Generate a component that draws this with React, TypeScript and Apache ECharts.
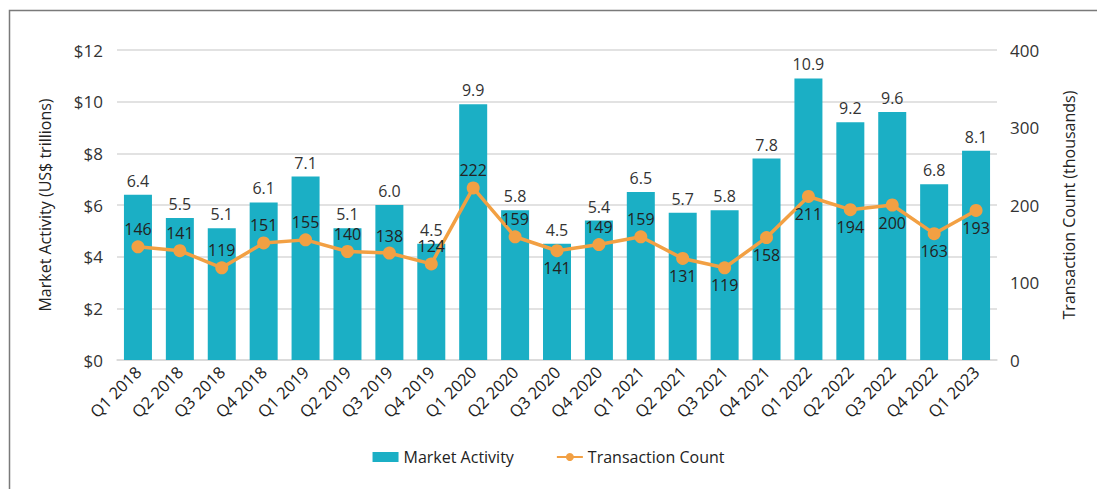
import React, { useEffect, useRef } from "react";
import * as echarts from "echarts";

const categories = [
  "Q1 2018", "Q2 2018", "Q3 2018", "Q4 2018",
  "Q1 2019", "Q2 2019", "Q3 2019", "Q4 2019",
  "Q1 2020", "Q2 2020", "Q3 2020", "Q4 2020",
  "Q1 2021", "Q2 2021", "Q3 2021", "Q4 2021",
  "Q1 2022", "Q2 2022", "Q3 2022", "Q4 2022",
  "Q1 2023",
];
const marketActivity = [6.4, 5.5, 5.1, 6.1, 7.1, 5.1, 6.0, 4.5, 9.9, 5.8, 4.5, 5.4, 6.5, 5.7, 5.8, 7.8, 10.9, 9.2, 9.6, 6.8, 8.1];
const transactionCount = [146, 141, 119, 151, 155, 140, 138, 124, 222, 159, 141, 149, 159, 131, 119, 158, 211, 194, 200, 163, 193];
const lineLabelPos = ["top", "top", "top", "top", "top", "top", "top", "top", "top", "top", "bottom", "top", "top", "bottom", "bottom", "bottom", "bottom", "bottom", "bottom", "bottom", "bottom"];

const FONT = "'Open Sans', 'Noto Sans', sans-serif";
const TEAL = "#1BAFC5";
const ORANGE = "#F2A043";

export default function App() {
  const ref = useRef<HTMLDivElement>(null);
  useEffect(() => {
    document.body.style.margin = "0";
    const chart = echarts.init(ref.current!, null, { renderer: "svg" });
    chart.setOption({
      animation: false,
      textStyle: { fontFamily: FONT },
      graphic: [
        {
          type: "rect",
          shape: { x: 9.5, y: 10.5, width: 1200, height: 600 },
          style: { fill: "none", stroke: "#7a7a7a", lineWidth: 1.5 },
          silent: true,
        },
      ],
      grid: { left: 117, right: 100, top: 50, bottom: 129, containLabel: false },
      legend: {
        bottom: 19,
        left: "center",
        itemGap: 42,
        textStyle: { fontSize: 16, color: "#222", fontFamily: FONT },
        data: [
          { name: "Market Activity", icon: "rect", itemStyle: { color: TEAL } },
          { name: "Transaction Count" },
        ],
        itemWidth: 26,
        itemHeight: 10,
      },
      xAxis: {
        type: "category",
        data: categories,
        axisTick: { show: false },
        axisLine: { lineStyle: { color: "#d9d9d9", width: 1.5 } },
        axisLabel: { rotate: 45, fontSize: 16.5, color: "#222", margin: 9, interval: 0 },
      },
      yAxis: [
        {
          type: "value",
          min: 0,
          max: 12,
          interval: 2,
          name: "Market Activity (US$ trillions)",
          nameLocation: "middle",
          nameGap: 64,
          nameTextStyle: { fontSize: 16, color: "#222" },
          axisLabel: { formatter: (v: number) => "$" + v, fontSize: 17, color: "#333", margin: 14 },
          splitLine: { lineStyle: { color: "#d9d9d9", width: 1.5 } },
          axisLine: { show: false },
          axisTick: { show: false },
        },
        {
          type: "value",
          min: 0,
          max: 400,
          interval: 100,
          name: "Transaction Count (thousands)",
          nameLocation: "middle",
          nameGap: 64,
          nameRotate: 90,
          nameTextStyle: { fontSize: 16, color: "#222" },
          axisLabel: { fontSize: 17, color: "#333", margin: 13 },
          splitLine: { show: false },
          axisLine: { show: false },
          axisTick: { show: false },
        },
      ],
      series: [
        {
          name: "Market Activity",
          type: "bar",
          data: marketActivity,
          barWidth: 28,
          itemStyle: { color: TEAL },
          label: {
            show: true,
            position: "top",
            distance: 6,
            fontSize: 16,
            color: "#333",
            formatter: (p: any) => Number(p.value).toFixed(1),
          },
        },
        {
          name: "Transaction Count",
          type: "line",
          yAxisIndex: 1,
          data: transactionCount.map((v, i) => ({
            value: v,
            label: { position: lineLabelPos[i] },
          })),
          symbol: "circle",
          symbolSize: 13,
          lineStyle: { color: ORANGE, width: 3.5 },
          itemStyle: { color: ORANGE },
          label: { show: true, fontSize: 16, color: "#222", distance: 3 },
          z: 3,
        },
      ],
    });
    return () => chart.dispose();
  }, []);
  return <div ref={ref} style={{ width: 1097, height: 489 }} />;
}
